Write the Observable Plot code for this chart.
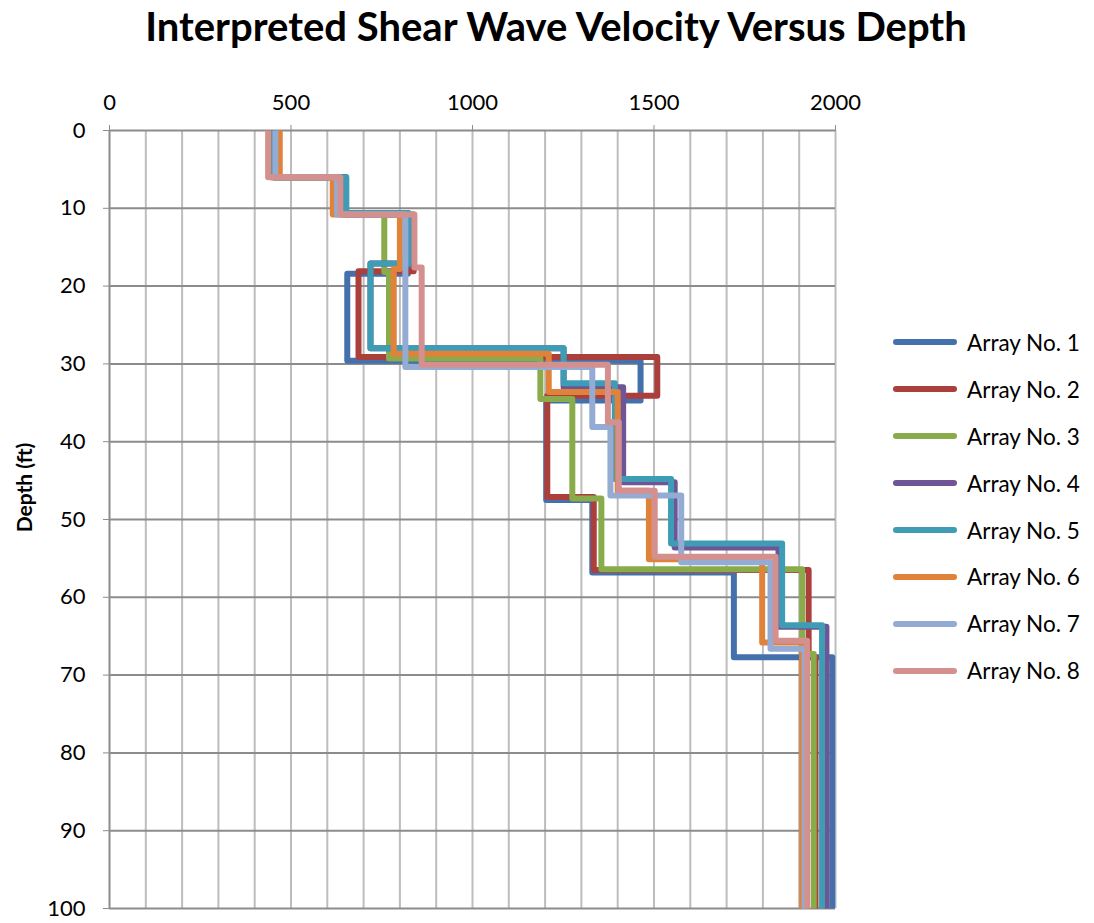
<!DOCTYPE html>
<html>
<head>
<meta charset="utf-8">
<script src="https://cdn.jsdelivr.net/npm/d3@7"></script>
<script src="https://cdn.jsdelivr.net/npm/@observablehq/plot@0.6"></script>
<style>
  html, body { margin: 0; padding: 0; background: #fff; }
  #wrap { position: relative; width: 1094px; height: 923px; overflow: hidden; }
  #title { position: absolute; left: 0; width: 1112px; top: 1px; text-align: center;
           font-family: Lato, "Open Sans", sans-serif; font-weight: 700; font-size: 40px; color: #000; line-height: 50px; }
  #legend { position: absolute; left: 893px; top: 319px; font-family: Lato, "Open Sans", sans-serif; font-size: 22.5px; }
  .item { display: flex; align-items: center; height: 46.9px; }
  .swatch { width: 64px; height: 6px; border-radius: 3px; margin-right: 10px; }
</style>
</head>
<body>
<div id="wrap">
  <div id="title">Interpreted Shear Wave Velocity Versus Depth</div>
  <div id="chart"></div>
  <div id="legend"></div>
</div>
<script>
// Layer boundaries (ft) and shear wave velocities (ft/s) for each array
const seriesNames = ["Array No. 1","Array No. 2","Array No. 3","Array No. 4","Array No. 5","Array No. 6","Array No. 7","Array No. 8"];
const seriesColors = ["#4470ab","#ab3f3c","#8aab4a","#6f5595","#3e9cb4","#e0823a","#94acd4","#d4908f"];

const array1Depths = [0, 6, 10.8, 18.4, 29.6, 34.7, 47.5, 56.8, 67.7, 100];
const array1Vs     = [452, 652, 822, 655, 1463, 1203, 1330, 1720, 1991];

const array2Depths = [0, 6, 10.8, 18.1, 29.1, 34.1, 47.1, 56.5, 67.7, 100];
const array2Vs     = [446, 645, 838, 686, 1509, 1206, 1334, 1926, 1945];

const array3Depths = [0, 6, 10.8, 18.2, 29.3, 34.5, 47.3, 56.4, 67.3, 100];
const array3Vs     = [450, 640, 757, 770, 1187, 1275, 1355, 1908, 1940];

const array4Depths = [0, 6, 10.8, 17.1, 28, 33, 45.2, 53.6, 63.8, 100];
const array4Vs     = [455, 650, 824, 719, 1251, 1415, 1557, 1843, 1975];

const array5Depths = [0, 6, 10.6, 17.1, 28, 32.5, 44.8, 53.1, 63.6, 100];
const array5Vs     = [455, 652, 824, 719, 1251, 1392, 1547, 1853, 1963];

const array6Depths = [0, 6, 10.8, 17.8, 28.7, 33.6, 46.3, 55.1, 65.8, 100];
const array6Vs     = [469, 615, 800, 783, 1210, 1400, 1486, 1798, 1908];

const array7Depths = [0, 6, 10.8, 30.4, 38.1, 46.9, 55.5, 66.6, 100];
const array7Vs     = [457, 627, 815, 1330, 1380, 1575, 1821, 1915];

const array8Depths = [0, 6, 10.8, 17.6, 30.1, 37.5, 46.3, 54.8, 65.6, 100];
const array8Vs     = [437, 636, 840, 860, 1373, 1403, 1502, 1835, 1922];

const xTicks = [0, 500, 1000, 1500, 2000];
const yTicks = [0, 10, 20, 30, 40, 50, 60, 70, 80, 90, 100];
const xMinor = d3.range(0, 2001, 100);

const allDepths = [array1Depths, array2Depths, array3Depths, array4Depths, array5Depths, array6Depths, array7Depths, array8Depths];
const allVs = [array1Vs, array2Vs, array3Vs, array4Vs, array5Vs, array6Vs, array7Vs, array8Vs];

function profile(depths, vs, name) {
  const pts = [];
  vs.forEach((v, i) => {
    pts.push({series: name, v, depth: depths[i]});
    pts.push({series: name, v, depth: depths[i + 1]});
  });
  return pts;
}

const lineMarks = seriesNames.map((name, i) =>
  Plot.line(profile(allDepths[i], allVs[i], name), {
    x: "v", y: "depth", stroke: seriesColors[i], strokeWidth: 6,
    strokeLinejoin: "round", strokeLinecap: "butt"
  })
);

const chart = Plot.plot({
  width: 1094,
  height: 923,
  marginTop: 130,
  marginLeft: 109,
  marginRight: 259,
  marginBottom: 15,
  style: {fontFamily: "Lato, 'Open Sans', sans-serif", fontSize: "22px", color: "#000", background: "#fff"},
  x: {domain: [0, 2000], axis: null},
  y: {domain: [0, 100], reverse: true, axis: null},
  marks: [
    Plot.ruleX(xMinor.filter(d => d > 0), {stroke: "#bdbdbd", strokeWidth: 2}),
    Plot.ruleY(yTicks, {stroke: "#8c8c8c", strokeWidth: 2}),
    Plot.ruleX([0], {stroke: "#8c8c8c", strokeWidth: 2}),
    Plot.axisX({anchor: "top", ticks: xTicks, tickSize: 6, tickPadding: 15, stroke: "#8c8c8c",
                tickFormat: d => String(d), label: null, fontSize: 22, fill: "#000"}),
    Plot.axisY({anchor: "left", ticks: yTicks, tickSize: 6, tickPadding: 18, stroke: "#8c8c8c",
                tickFormat: d => String(d), label: null, fontSize: 22, fill: "#000"}),
    ...lineMarks,
    Plot.text(["Depth (ft)"], {frameAnchor: "left", textAnchor: "middle", dx: -84, dy: -32, rotate: -90,
                fontWeight: "bold", text: d => d, fontSize: 21, fill: "#000"})
  ]
});
document.getElementById("chart").appendChild(chart);

const legend = document.getElementById("legend");
seriesNames.forEach((name, i) => {
  const item = document.createElement("div");
  item.className = "item";
  const sw = document.createElement("div");
  sw.className = "swatch";
  sw.style.background = seriesColors[i];
  const label = document.createElement("span");
  label.textContent = name;
  item.appendChild(sw);
  item.appendChild(label);
  legend.appendChild(item);
});
</script>
</body>
</html>
